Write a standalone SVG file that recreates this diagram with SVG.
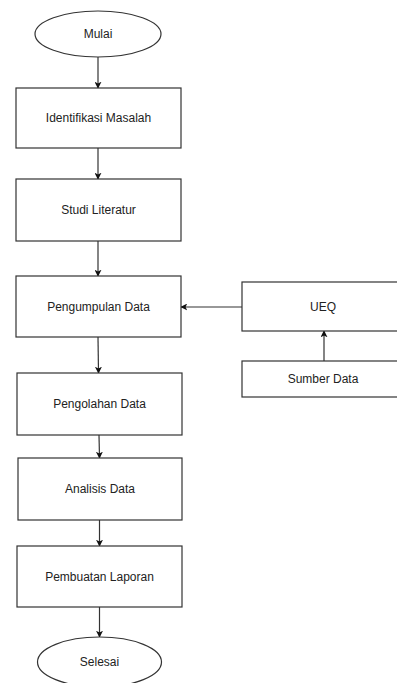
<svg xmlns="http://www.w3.org/2000/svg" width="397" height="683" viewBox="0 0 397 683">
  <style>
    .shape { fill: #ffffff; stroke: #333333; stroke-width: 1.2; }
    .label { font-family: "Liberation Sans", Arial, sans-serif; font-size: 12px; fill: #222222; text-anchor: middle; dominant-baseline: central; }
    .edge { fill: none; stroke: #333333; stroke-width: 1.2; marker-end: url(#arrow); }
  </style>
  <defs>
    <marker id="arrow" viewBox="0 0 10 10" refX="9" refY="5" markerWidth="7" markerHeight="7" markerUnits="userSpaceOnUse" orient="auto">
      <path d="M0,0 L10,5 L0,10 L2.5,5 Z" fill="#111111"/>
    </marker>
  </defs>
  <rect width="397" height="683" fill="#ffffff"/>

  <g id="connectors">
    <line class="edge" x1="98" y1="57" x2="98" y2="88"/>
    <line class="edge" x1="98" y1="148" x2="98" y2="179"/>
    <line class="edge" x1="98" y1="241" x2="98" y2="276"/>
    <line class="edge" x1="98" y1="337" x2="98.5" y2="373"/>
    <line class="edge" x1="99" y1="435" x2="99.5" y2="458"/>
    <line class="edge" x1="99.5" y1="520" x2="99.5" y2="546"/>
    <line class="edge" x1="99.5" y1="607" x2="99.5" y2="637"/>
    <line class="edge" x1="242" y1="307" x2="181" y2="307"/>
    <line class="edge" x1="324" y1="361" x2="324" y2="331"/>
  </g>

  <g id="mulai">
    <ellipse class="shape" cx="98" cy="34" rx="63" ry="23"/>
    <text class="label" x="98" y="34">Mulai</text>
  </g>
  <g id="identifikasi-masalah">
    <rect class="shape" x="16" y="88" width="165" height="60"/>
    <text class="label" x="98.5" y="118">Identifikasi Masalah</text>
  </g>
  <g id="studi-literatur">
    <rect class="shape" x="16" y="179" width="165" height="62"/>
    <text class="label" x="98.5" y="210">Studi Literatur</text>
  </g>
  <g id="pengumpulan-data">
    <rect class="shape" x="16" y="276" width="165" height="61"/>
    <text class="label" x="98.5" y="306.5">Pengumpulan Data</text>
  </g>
  <g id="pengolahan-data">
    <rect class="shape" x="17" y="373" width="165" height="62"/>
    <text class="label" x="99.5" y="404">Pengolahan Data</text>
  </g>
  <g id="analisis-data">
    <rect class="shape" x="18" y="458" width="164" height="62"/>
    <text class="label" x="100" y="489">Analisis Data</text>
  </g>
  <g id="pembuatan-laporan">
    <rect class="shape" x="17" y="546" width="165" height="61"/>
    <text class="label" x="99.5" y="576.5">Pembuatan Laporan</text>
  </g>
  <g id="selesai">
    <ellipse class="shape" cx="99.5" cy="662" rx="62" ry="25"/>
    <text class="label" x="99.5" y="662">Selesai</text>
  </g>
  <g id="ueq">
    <rect class="shape" x="242" y="282" width="162" height="49"/>
    <text class="label" x="323" y="306.5">UEQ</text>
  </g>
  <g id="sumber-data">
    <rect class="shape" x="242" y="361" width="162" height="36"/>
    <text class="label" x="323" y="379">Sumber Data</text>
  </g>
</svg>
